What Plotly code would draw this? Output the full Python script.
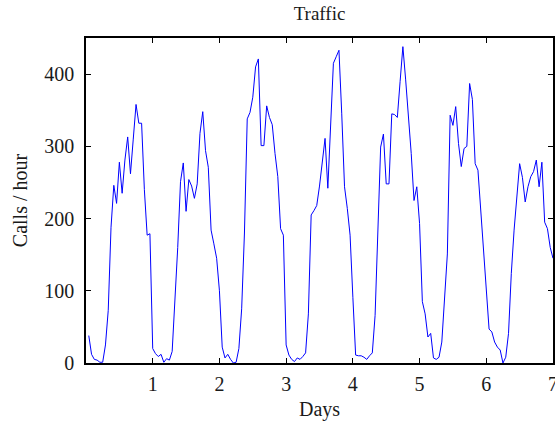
import plotly.graph_objects as go

# Hourly call counts, 7 days x 24 hours (hour 1 .. 168)
day1 = [38, 12, 5, 4, 1, 1, 25, 73, 188, 246, 221, 278, 235, 281, 313, 262, 310, 358, 332, 332, 240, 177, 179, 20]
day2 = [13, 9, 12, 1, 6, 4, 16, 85, 160, 251, 277, 210, 254, 245, 228, 248, 318, 348, 294, 271, 184, 165, 145, 100]
day3 = [22, 7, 12, 5, 0, 1, 20, 75, 180, 338, 347, 368, 410, 421, 301, 301, 356, 340, 330, 290, 258, 186, 177, 25]
day4 = [11, 5, 2, 7, 5, 9, 14, 68, 205, 211, 218, 245, 275, 311, 242, 320, 415, 424, 433, 345, 244, 214, 177, 91]
day5 = [11, 10, 10, 8, 5, 10, 14, 66, 190, 299, 317, 248, 248, 345, 344, 340, 390, 438, 392, 345, 290, 225, 244, 193]
day6 = [85, 68, 36, 41, 7, 5, 8, 29, 85, 151, 343, 329, 355, 304, 272, 297, 300, 387, 365, 276, 267, 212, 157, 100]
day7 = [47, 43, 29, 22, 18, 0, 8, 41, 124, 184, 230, 276, 257, 223, 244, 258, 265, 281, 244, 278, 195, 186, 160, 145]

calls = day1 + day2 + day3 + day4 + day5 + day6 + day7
hours = list(range(1, len(calls) + 1))
days = [h / 24 for h in hours]

x_ticks = [1, 2, 3, 4, 5, 6, 7]
y_ticks = [0, 100, 200, 300, 400]

font_family = "Liberation Serif, Times New Roman, serif"
text_color = "#1a1a1a"

fig = go.Figure()
fig.add_trace(go.Scatter(
    x=days, y=calls, mode="lines",
    line=dict(color="#0000ff", width=1),
    showlegend=False, hoverinfo="skip",
))

axis_common = dict(
    showgrid=False, zeroline=False, automargin=False,
    showline=True, linecolor="black", linewidth=1.5, mirror="allticks",
    ticks="inside", ticklen=5, tickwidth=1, tickcolor="black",
    ticklabeloverflow="allow",
    tickfont=dict(family=font_family, size=20, color=text_color),
)

fig.update_layout(
    width=555, height=423,
    margin=dict(l=86, r=2, t=38, b=60),
    paper_bgcolor="white", plot_bgcolor="white",
    title=dict(text="Traffic", x=0.5, xref="paper", xanchor="center",
               y=1 - 13 / 423, yref="container", yanchor="middle",
               font=dict(family=font_family, size=19, color=text_color)),
    xaxis=dict(range=[0, 7], tickvals=x_ticks, ticktext=[str(v) for v in x_ticks],
               ticklabelstandoff=2,
               title=dict(text="Days", standoff=8,
                          font=dict(family=font_family, size=20, color=text_color)),
               **axis_common),
    yaxis=dict(range=[0, 450], tickvals=y_ticks, ticktext=[str(v) for v in y_ticks],
               ticklabelstandoff=6,
               title=dict(text="Calls / hour", standoff=11,
                          font=dict(family=font_family, size=20, color=text_color)),
               **axis_common),
)

fig.write_html("out.html", config={"displayModeBar": False},
               post_script="document.body.style.margin='0';")
